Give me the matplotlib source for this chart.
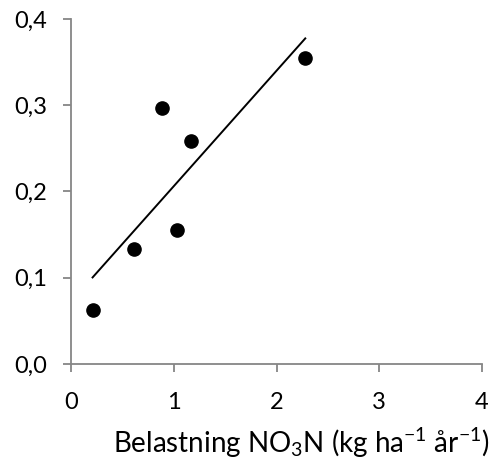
import numpy as np
import matplotlib.pyplot as plt
from matplotlib.ticker import FixedLocator

plt.rcParams['font.family'] = ['Lato', 'DejaVu Sans']
plt.rcParams['mathtext.default'] = 'regular'

# data
belastning = [0.21, 0.61, 0.886, 1.03, 1.165, 2.28]
verdi = [0.063, 0.133, 0.297, 0.155, 0.258, 0.355]

x_ticks = [0, 1, 2, 3, 4]
x_labels = ['0', '1', '2', '3', '4']
y_ticks = [0.0, 0.1, 0.2, 0.3, 0.4]
y_labels = ['0,0', '0,1', '0,2', '0,3', '0,4']

fig = plt.figure(figsize=(4.92, 4.59), dpi=100)
ax = fig.add_axes([0.1443, 0.207, 0.8354, 0.7516])

ax.plot(belastning, verdi, 'o', color='black', markersize=9.5, zorder=3)

# linear trend line
k, m = np.polyfit(belastning, verdi, 1)
xs = np.array([min(belastning), max(belastning)])
ax.plot(xs, k * xs + m, color='black', linewidth=1.4)

ax.set_xlim(0, 4)
ax.set_ylim(0, 0.4)
ax.xaxis.set_major_locator(FixedLocator(x_ticks))
ax.yaxis.set_major_locator(FixedLocator(y_ticks))
ax.set_xticklabels(x_labels)
ax.set_yticklabels(y_labels)

for s in ['top', 'right']:
    ax.spines[s].set_visible(False)
for s in ['left', 'bottom']:
    ax.spines[s].set_color('#868686')
    ax.spines[s].set_linewidth(1.3)
ax.tick_params(length=6, width=1.3, color='#868686', labelsize=17)
ax.tick_params(axis='y', pad=11)
ax.tick_params(axis='x', pad=14)

ax.set_xlabel('Belastning NO$_3$N (kg ha$^{-1}$ år$^{-1}$)', fontsize=20, loc='right')
ax.xaxis.set_label_coords((490 - 71) / 411, -0.18)

fig.savefig('out.png', dpi=100)
